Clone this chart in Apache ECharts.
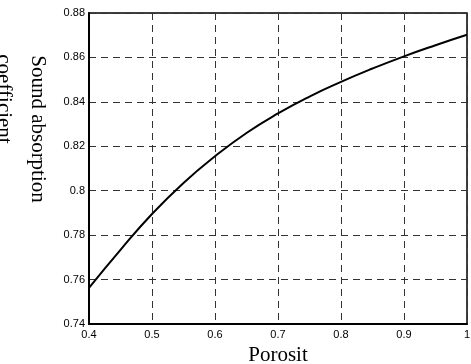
<!DOCTYPE html>
<html>
<head>
<meta charset="utf-8">
<script src="https://cdn.jsdelivr.net/npm/echarts@6/dist/echarts.min.js"></script>
<style>
  html, body { margin: 0; padding: 0; background: #fff; }
  #chart { width: 471px; height: 364px; }
</style>
</head>
<body>
<div id="chart"></div>
<script>
// porosity vs sound absorption coefficient
const porosity = [0.4, 0.45, 0.5, 0.55, 0.6, 0.65, 0.7, 0.75, 0.8, 0.85, 0.9, 0.95, 1.0]
const absorption = [0.7563, 0.7734, 0.7895, 0.8035, 0.8155, 0.8260, 0.8348, 0.8424, 0.8490, 0.8550, 0.8605, 0.8655, 0.8702]

const xTitle = 'Porosit'
const yTitle = 'Sound absorption'
const yTitle2 = 'coefficient'

const chart = echarts.init(document.getElementById('chart'))

// dashed grid like the matlab plot
const gridLine = {
  show: true,
  lineStyle: { color: '#333', type: [7, 5], width: 1 }
}

const option = {
  animation: false,
  grid: {
    left: 89,
    right: 4,
    top: 13,
    bottom: 40,
    outerBoundsMode: 'none',
    containLabel: false,
    show: true,
    borderColor: '#000',
    borderWidth: 1.5
  },
  xAxis: {
    type: 'value',
    min: 0.4,
    max: 1,
    interval: 0.1,
    name: xTitle,
    nameLocation: 'middle',
    nameGap: 20,
    nameTextStyle: { fontFamily: 'Liberation Serif', fontSize: 21, color: '#000' },
    axisLine: { show: true, lineStyle: { color: '#000', width: 2 } },
    axisTick: { show: false },
    axisLabel: {
      margin: 5,
      fontFamily: 'Liberation Sans',
      fontSize: 11,
      color: '#000',
      formatter: v => String(Math.round(v * 10) / 10)
    },
    splitLine: gridLine
  },
  yAxis: {
    type: 'value',
    min: 0.74,
    max: 0.88,
    interval: 0.02,
    axisLine: { show: true, lineStyle: { color: '#000', width: 2 } },
    axisTick: { show: false },
    axisLabel: {
      margin: 4,
      fontFamily: 'Liberation Sans',
      fontSize: 11,
      color: '#000',
      formatter: v => String(Math.round(v * 100) / 100)
    },
    splitLine: gridLine
  },
  graphic: [
    {
      type: 'text',
      x: 38,
      y: 129,
      rotation: -Math.PI / 2,
      style: {
        text: yTitle,
        font: '21px "Liberation Serif"',
        fill: '#000',
        align: 'center',
        verticalAlign: 'middle'
      }
    },
    {
      // second line sits mostly off the left edge, as in the source
      type: 'text',
      x: 4,
      y: 99,
      rotation: -Math.PI / 2,
      style: {
        text: yTitle2,
        font: '21px "Liberation Serif"',
        fill: '#000',
        align: 'center',
        verticalAlign: 'middle'
      }
    }
  ],
  series: [
    {
      type: 'line',
      data: porosity.map((p, i) => [p, absorption[i]]),
      smooth: true,
      showSymbol: false,
      lineStyle: { color: '#000', width: 2 }
    }
  ]
}

chart.setOption(option)
</script>
</body>
</html>
